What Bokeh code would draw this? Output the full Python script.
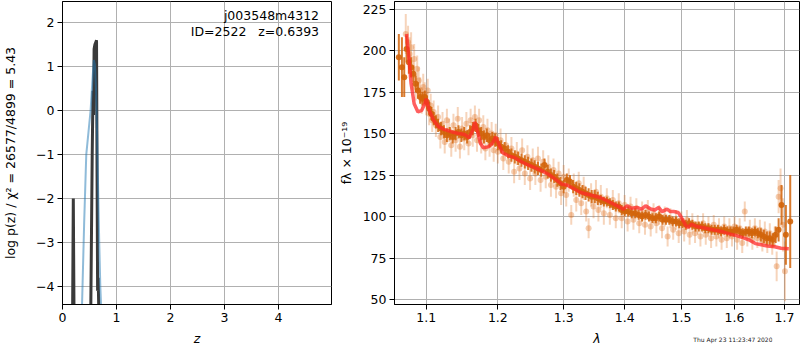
from bokeh.plotting import figure
from bokeh.models import Range1d, FixedTicker, PrintfTickFormatter, Label, GridBox
from bokeh.embed import file_html
from bokeh.resources import INLINE

FONT = "DejaVu Sans"

# ---------------- left panel: log p(z) ----------------
pz_z = [0.185, 0.200, 0.215,
        0.520, 0.550, 0.565, 0.575, 0.585, 0.600, 0.615, 0.630, 0.640, 0.650, 0.660, 0.670, 0.685]
pz_logp = [-5.0, -2.0, -5.0,
           -5.0, -1.0, 0.45, -0.1, 1.40, 1.50, 1.55, 1.60, -1.5, -4.1, -3.8, -4.4, -5.0]
pz_seg = [0, 0, 0, 1, 1, 1, 1, 1, 1, 1, 1, 1, 1, 1, 1, 1]

fit_z = [0.36, 0.40, 0.44, 0.48, 0.52, 0.56, 0.58, 0.60, 0.62, 0.64, 0.66, 0.68, 0.70, 0.72]
fit_logp = [-4.5, -2.6, -1.0, -0.5, 0.0, 0.8, 1.15, 1.05, 0.5, -0.5, -1.8, -3.0, -4.0, -4.6]

z_ticks = [0, 1, 2, 3, 4]
logp_ticks = [-4, -3, -2, -1, 0, 1, 2]

# ---------------- right panel: spectrum ----------------
pale_wave = [1.073, 1.076, 1.078, 1.080, 1.082, 1.084, 1.086, 1.088, 1.090, 1.092,
             1.094, 1.096, 1.098, 1.100, 1.102, 1.104, 1.106, 1.108, 1.110, 1.113,
             1.116, 1.119, 1.122, 1.125, 1.128, 1.131, 1.134, 1.137, 1.140, 1.143,
             1.146, 1.149, 1.152, 1.155, 1.158, 1.161, 1.164, 1.167, 1.170, 1.173,
             1.176, 1.179, 1.182, 1.185, 1.188, 1.191, 1.194, 1.197, 1.200, 1.204,
             1.208, 1.212, 1.216, 1.220, 1.224, 1.228, 1.232, 1.236, 1.240, 1.244,
             1.248, 1.252, 1.256, 1.260, 1.264, 1.268, 1.272, 1.276, 1.280, 1.284,
             1.288, 1.292, 1.296, 1.300, 1.304, 1.308, 1.312, 1.316, 1.320, 1.324,
             1.328, 1.332, 1.336, 1.340, 1.344, 1.348, 1.352, 1.356, 1.360, 1.365,
             1.370, 1.375, 1.380, 1.385, 1.390, 1.395, 1.400, 1.405, 1.410, 1.415,
             1.420, 1.425, 1.430, 1.435, 1.440, 1.445, 1.450, 1.455, 1.460, 1.465,
             1.470, 1.475, 1.480, 1.485, 1.490, 1.495, 1.500, 1.505, 1.510, 1.515,
             1.520, 1.525, 1.530, 1.535, 1.540, 1.545, 1.550, 1.555, 1.560, 1.565,
             1.570, 1.575, 1.580, 1.585, 1.590, 1.595, 1.600, 1.605, 1.610, 1.615,
             1.620, 1.625, 1.630, 1.635, 1.640, 1.645, 1.650, 1.655, 1.660, 1.665,
             1.670, 1.675, 1.680, 1.684, 1.688, 1.692, 1.697, 1.701]
pale_flux = [210, 205, 198, 202, 185, 195, 178, 189, 182, 176,
             170, 178, 174, 168, 176, 162, 167, 158, 163, 155,
             160, 148, 156, 145, 158, 152, 143, 155, 146, 159,
             142, 153, 147, 156, 144, 158, 149, 160, 146, 158,
             145, 154, 141, 152, 143, 150, 140, 149, 139, 146,
             135, 143, 133, 141, 127, 138, 129, 140, 126, 136,
             123, 134, 126, 135, 122, 133, 124, 130, 119, 128,
             118, 126, 114, 124, 113, 122, 101, 119, 110, 120,
             108, 117, 103, 93, 113, 106, 115, 104, 112, 102,
             111, 101, 110, 99, 108, 99, 107, 97, 106, 98,
             105, 96, 103, 95, 104, 94, 102, 96, 101, 93,
             100, 88, 99, 92, 98, 90, 97, 91, 98, 89,
             96, 90, 95, 88, 96, 89, 94, 87, 95, 88,
             93, 86, 94, 87, 93, 88, 94, 86, 93, 84,
             103, 88, 92, 86, 93, 87, 92, 85, 91, 84,
             90, 83, 88, 70, 112, 117, 95, 67]
pale_err = [12, 10, 10, 9, 9, 9, 8, 8, 8, 8,
            8, 8, 7, 7, 7, 7, 7, 7, 7, 7,
            7, 7, 7, 7, 7, 7, 7, 7, 7, 7,
            7, 7, 7, 7, 7, 7, 7, 7, 7, 7,
            7, 7, 7, 7, 7, 7, 7, 7, 7, 7,
            7, 7, 7, 7, 7, 7, 7, 7, 7, 7,
            7, 7, 7, 7, 7, 7, 7, 7, 7, 7,
            7, 7, 7, 7, 7, 7, 6, 7, 7, 7,
            7, 7, 6, 6, 7, 7, 7, 7, 7, 7,
            6, 6, 6, 6, 6, 6, 6, 6, 6, 6,
            6, 6, 6, 6, 6, 6, 6, 6, 6, 6,
            6, 6, 6, 6, 6, 6, 6, 6, 6, 6,
            6, 6, 6, 6, 6, 6, 6, 6, 6, 6,
            6, 6, 6, 6, 6, 6, 6, 6, 6, 6,
            6, 6, 6, 6, 6, 6, 6, 6, 6, 6,
            6, 6, 6, 9, 10, 12, 16, 18]

bin_wave = [1.064, 1.068, 1.071, 1.074, 1.077, 1.080, 1.083, 1.086, 1.089, 1.092,
            1.095, 1.098, 1.101, 1.104, 1.107, 1.110, 1.113, 1.116, 1.120, 1.124,
            1.128, 1.132, 1.136, 1.140, 1.144, 1.148, 1.152, 1.156, 1.160, 1.164,
            1.168, 1.172, 1.176, 1.180, 1.184, 1.188, 1.192, 1.196, 1.200, 1.205,
            1.210, 1.215, 1.220, 1.225, 1.230, 1.235, 1.240, 1.245, 1.250, 1.255,
            1.260, 1.265, 1.270, 1.275, 1.280, 1.285, 1.290, 1.295, 1.300, 1.305,
            1.310, 1.315, 1.320, 1.325, 1.330, 1.335, 1.340, 1.345, 1.350, 1.355,
            1.360, 1.365, 1.370, 1.375, 1.380, 1.385, 1.390, 1.395, 1.400, 1.406,
            1.412, 1.418, 1.424, 1.430, 1.436, 1.442, 1.448, 1.454, 1.460, 1.466,
            1.472, 1.478, 1.484, 1.490, 1.496, 1.502, 1.508, 1.514, 1.520, 1.526,
            1.532, 1.538, 1.544, 1.550, 1.556, 1.562, 1.568, 1.574, 1.580, 1.586,
            1.592, 1.598, 1.604, 1.610, 1.616, 1.622, 1.628, 1.634, 1.640, 1.646,
            1.652, 1.658, 1.664, 1.670, 1.676, 1.682, 1.688, 1.694, 1.703, 1.712]
bin_flux = [196, 190, 184, 201, 193, 190, 186, 180, 176, 172,
            171, 172, 169, 165, 162, 159, 157, 155, 153, 151,
            149, 150, 148, 150, 151, 149, 150, 148, 151, 153,
            155, 152, 150, 148, 149, 146, 147, 146, 144, 142,
            141, 139, 137, 136, 135, 134, 133, 132, 131, 130,
            129, 128, 131, 127, 125, 124, 122, 120, 118, 122,
            121, 118, 117, 116, 115, 114, 113, 112, 112, 111,
            110, 109, 109, 108, 107, 106, 106, 104, 103, 103,
            102, 102, 101, 100, 101, 100, 99, 99, 100, 98,
            98, 98, 97, 97, 96, 96, 95, 96, 95, 94,
            94, 94, 93, 93, 92, 92, 92, 91, 92, 91,
            91, 91, 92, 91, 90, 91, 91, 90, 91, 90,
            89, 88, 87, 87, 86, 89, 92, 107, 89, 97]
bin_err = [14, 18, 12, 8, 7, 6, 5, 5, 5, 4,
           4, 4, 4, 4, 4, 4, 4, 4, 4, 4,
           4, 4, 4, 4, 4, 4, 4, 4, 4, 4,
           4, 4, 4, 4, 4, 4, 4, 4, 4, 4,
           4, 4, 4, 4, 4, 4, 4, 4, 4, 4,
           4, 4, 4, 4, 4, 4, 4, 4, 4, 4,
           4, 4, 4, 4, 4, 4, 4, 4, 4, 4,
           3, 3, 3, 3, 3, 3, 3, 3, 3, 3,
           3, 3, 3, 3, 3, 3, 3, 3, 3, 3,
           3, 3, 3, 3, 3, 3, 3, 3, 3, 3,
           3, 3, 3, 3, 3, 3, 3, 3, 3, 3,
           3, 3, 3, 3, 3, 3, 3, 3, 3, 3,
           4, 4, 4, 4, 4, 5, 7, 12, 18, 28]

model_wave = [1.074, 1.077, 1.080, 1.084, 1.089, 1.094, 1.098, 1.100, 1.104, 1.110,
              1.117, 1.124, 1.135, 1.145, 1.152, 1.159, 1.164, 1.167, 1.171, 1.175,
              1.179, 1.186, 1.192, 1.197, 1.202, 1.207, 1.216, 1.225, 1.235, 1.243,
              1.255, 1.266, 1.276, 1.285, 1.292, 1.297, 1.305, 1.315, 1.327, 1.343,
              1.359, 1.376, 1.390, 1.398, 1.404, 1.412, 1.421, 1.429, 1.436, 1.445,
              1.452, 1.459, 1.465, 1.474, 1.480, 1.486, 1.494, 1.499, 1.503, 1.508,
              1.512, 1.518, 1.528, 1.538, 1.553, 1.568, 1.580, 1.592, 1.604, 1.616,
              1.628, 1.641, 1.653, 1.665, 1.680, 1.693, 1.709]
model_flux = [210, 196, 180, 168, 163, 164, 168, 171, 164, 158,
              154, 152.5, 151, 150, 149.5, 147.5, 152, 157, 151, 144,
              141.5, 142, 144, 148, 143, 138.5, 136.5, 135.5, 133, 131.5,
              129.5, 127.5, 125.5, 123, 121, 119.5, 119, 117, 114.5, 113,
              111.5, 108.5, 106, 104.5, 106.5, 105, 105.5, 104.5, 106.5, 104.5,
              104, 105.5, 103, 104.5, 103, 103, 102.5, 100, 97.5, 94.5,
              93.4, 95.4, 94, 93.4, 92.3, 91.4, 90.5, 89.4, 88.5, 87.3,
              86, 83.7, 83, 82.3, 81.8, 80.9, 80.6]

wave_ticks = [1.1, 1.2, 1.3, 1.4, 1.5, 1.6, 1.7]
flux_ticks = [50, 75, 100, 125, 150, 175, 200, 225]

stamp_text = "Thu Apr 23 11:23:47 2020"


def style(p):
    p.outline_line_color = "black"
    p.outline_line_width = 1
    p.outline_line_alpha = 1
    p.background_fill_color = "white"
    p.border_fill_color = "white"
    for ax in p.axis:
        ax.axis_line_color = "black"
        ax.major_tick_line_color = "black"
        ax.major_tick_out = 5
        ax.major_tick_in = 0
        ax.minor_tick_line_color = None
        ax.major_label_text_font = FONT
        ax.major_label_text_font_size = "12.5px"
        ax.major_label_text_color = "black"
        ax.axis_label_text_font = FONT
        ax.axis_label_text_font_size = "12.5px"
        ax.axis_label_text_font_style = "normal"
        ax.axis_label_text_color = "black"
        ax.major_label_standoff = 3
        ax.axis_label_standoff = 6
    p.grid.grid_line_color = "#b0b0b0"
    p.grid.grid_line_width = 1
    p.grid.grid_line_alpha = 1


# ---- left figure
p1 = figure(frame_width=269, frame_height=303,
            x_range=Range1d(0, 4.98), y_range=Range1d(-4.41, 2.48),
            min_border_left=62, min_border_right=3, min_border_top=1, min_border_bottom=46,
            frame_align=False,
            output_backend="svg", toolbar_location=None)
style(p1)
p1.xaxis.ticker = FixedTicker(ticks=z_ticks)
p1.yaxis.ticker = FixedTicker(ticks=logp_ticks)
p1.yaxis.major_label_overrides = {t: ("\u2212" + str(abs(t)) if t < 0 else str(t)) for t in logp_ticks}
p1.yaxis.axis_label_standoff = 15
p1.xaxis.axis_label = "z"
p1.xaxis.axis_label_text_font_style = "italic"
p1.yaxis.axis_label = "log p(z) / \u03c7\u00b2 = 26577/4899 = 5.43"

for s in (0, 1):
    xs = [z for z, g in zip(pz_z, pz_seg) if g == s]
    ys = [v for v, g in zip(pz_logp, pz_seg) if g == s]
    p1.line(xs, ys, line_color="#3a3a3a", line_width=3)
p1.line(fit_z, fit_logp, line_color="#1f77b4", line_alpha=0.5, line_width=2)

p1.add_layout(Label(x=4.75, y=1.98, text="j003548m4312", text_align="right",
                    text_font=FONT, text_font_size="12.5px", text_color="black"))
p1.add_layout(Label(x=4.75, y=1.63, text="ID=2522\u00a0\u00a0\u00a0z=0.6393", text_align="right",
                    text_font=FONT, text_font_size="12.5px", text_color="black"))

# ---- right figure
p2 = figure(frame_width=405, frame_height=303, x_axis_type="log",
            x_range=Range1d(1.0584, 1.7314), y_range=Range1d(47, 229.6),
            min_border_left=60, min_border_right=1, min_border_top=1, min_border_bottom=46,
            frame_align=False,
            output_backend="svg", toolbar_location=None)
style(p2)
p2.xaxis.ticker = FixedTicker(ticks=wave_ticks)
p2.xaxis.formatter = PrintfTickFormatter(format="%.1f")
p2.yaxis.ticker = FixedTicker(ticks=flux_ticks)
p2.yaxis.axis_label_standoff = 6
p2.xaxis.axis_label = "\u03bb"
p2.xaxis.axis_label_text_font_style = "italic"
p2.yaxis.axis_label = "f\u03bb \u00d7 10\u207b\u00b9\u2079"

PALE = "#e0701f"
DARK = "#d2640a"
p2.segment(x0=pale_wave, y0=[f - e for f, e in zip(pale_flux, pale_err)],
           x1=pale_wave, y1=[f + e for f, e in zip(pale_flux, pale_err)],
           line_color=PALE, line_alpha=0.3, line_width=2)
p2.scatter(pale_wave, pale_flux, size=6, marker="circle",
           fill_color=PALE, fill_alpha=0.35, line_color=None)
p2.segment(x0=bin_wave, y0=[f - e for f, e in zip(bin_flux, bin_err)],
           x1=bin_wave, y1=[f + e for f, e in zip(bin_flux, bin_err)],
           line_color=DARK, line_alpha=0.85, line_width=2)
p2.scatter(bin_wave, bin_flux, size=6, marker="circle",
           fill_color=DARK, fill_alpha=0.9, line_color=None)
p2.line(model_wave, model_flux, line_color="#ff2a2a", line_alpha=0.75, line_width=3.5)

# ---- transparent overlay carrying the date stamp (same grid cell as p2)
p3 = figure(frame_width=84, frame_height=12, x_range=Range1d(0, 1), y_range=Range1d(0, 1),
            min_border_left=354, min_border_right=28, min_border_top=333, min_border_bottom=5,
            x_axis_location=None, y_axis_location=None, frame_align=False,
            output_backend="svg", toolbar_location=None)
p3.grid.visible = False
p3.outline_line_color = None
p3.background_fill_color = None
p3.border_fill_color = None
p3.add_layout(Label(x=1, y=0.5, text=stamp_text, text_align="right", text_baseline="middle",
                    text_font=FONT, text_font_size="6px", text_color="#222222"))

layout = GridBox(children=[(p1, 0, 0), (p2, 0, 1), (p3, 0, 1)], spacing=0)
open("out.html", "w").write(file_html(layout, INLINE))
